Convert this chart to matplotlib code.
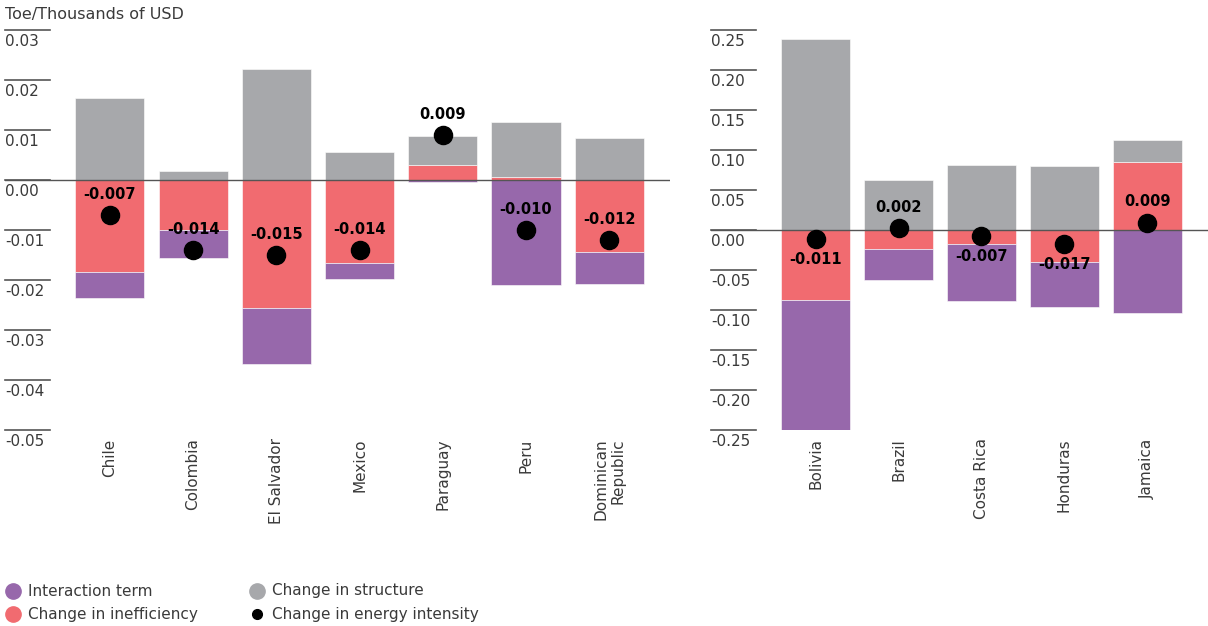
import numpy as np
import matplotlib.pyplot as plt
from matplotlib.lines import Line2D

# left panel (Toe / thousands of USD)
countries_l = ["Chile", "Colombia", "El Salvador", "Mexico", "Paraguay", "Peru",
               "Dominican\nRepublic"]
structure_l = [0.0164, 0.0018, 0.0222, 0.0056, 0.0058, 0.0109, 0.0084]
ineff_l = [-0.0184, -0.0100, -0.0256, -0.0166, 0.0030, 0.0007, -0.0143]
interaction_l = [-0.0052, -0.0056, -0.0112, -0.0032, -0.0003, -0.0210, -0.0065]
intensity_l = [-0.007, -0.014, -0.015, -0.014, 0.009, -0.010, -0.012]
yticks_l = [0.03, 0.02, 0.01, 0.00, -0.01, -0.02, -0.03, -0.04, -0.05]

# right panel
countries_r = ["Bolivia", "Brazil", "Costa Rica", "Honduras", "Jamaica"]
structure_r = [0.239, 0.063, 0.081, 0.080, 0.028]
ineff_r = [-0.087, -0.024, -0.018, -0.040, 0.085]
interaction_r = [-0.164, -0.038, -0.071, -0.056, -0.104]
intensity_r = [-0.011, 0.002, -0.007, -0.017, 0.009]
yticks_r = [0.25, 0.20, 0.15, 0.10, 0.05, 0.00, -0.05, -0.10, -0.15, -0.20, -0.25]

legend_labels = ["Interaction term", "Change in inefficiency",
                 "Change in structure", "Change in energy intensity"]

PURPLE = "#9768AB"
RED = "#F16B70"
GRAY = "#A7A8AB"
TXT = "#3a3a3a"
LINE = "#555555"

plt.rcParams["font.family"] = ["DejaVu Sans"]

W, H = 1208, 626
fig = plt.figure(figsize=(W / 100, H / 100), dpi=100)
ax_l = fig.add_axes([5 / W, 196 / H, 665 / W, 400 / H])
ax_r = fig.add_axes([711 / W, 196 / H, 497 / W, 400 / H])


def draw_panel(ax, names, structure, ineff, interaction, intensity, yticks,
               ylim, labels_above):
    x = np.arange(len(names))
    pos = np.zeros(len(names))
    neg = np.zeros(len(names))
    # stacking order: inefficiency nearest zero, then structure, then interaction
    for vals, col in [(ineff, RED), (structure, GRAY), (interaction, PURPLE)]:
        vals = np.array(vals)
        bottom = np.where(vals >= 0, pos, neg)
        ax.bar(x, vals, bottom=bottom, width=0.83, color=col,
               edgecolor="white", linewidth=0.4, zorder=2)
        pos = pos + np.where(vals >= 0, vals, 0)
        neg = neg + np.where(vals < 0, vals, 0)

    ax.scatter(x, intensity, s=170, color="black", zorder=4)
    for xi, v in zip(x, intensity):
        above = labels_above or v > 0
        ax.annotate(f"{v:.3f}", (xi, v), xytext=(0, 15 if above else -15),
                    textcoords="offset points", ha="center", va="center",
                    fontsize=10.5, fontweight="bold", color="black", zorder=5)

    x0 = -1.26
    ax.set_xlim(x0, len(names) - 1 + 0.73)
    ax.set_ylim(*ylim)
    ax.axhline(0, color=LINE, lw=1, zorder=3)
    for t in yticks:
        ax.plot([x0, x0 + 0.54], [t, t], color=LINE, lw=1.2, clip_on=False)
        ax.annotate(f"{t:.2f}", (x0, t), xytext=(0, -3), textcoords="offset points",
                    ha="left", va="top", fontsize=11, color=TXT,
                    annotation_clip=False)

    for xi, name in zip(x, names):
        ax.annotate(name, (xi, ylim[0]), xytext=(0, -6), textcoords="offset points",
                    rotation=90, ha="center", va="top", multialignment="right",
                    fontsize=11, color=TXT, annotation_clip=False)

    ax.set_xticks([])
    ax.set_yticks([])
    for s in ax.spines.values():
        s.set_visible(False)


draw_panel(ax_l, countries_l, structure_l, ineff_l, interaction_l, intensity_l,
           yticks_l, (-0.05, 0.03), True)
draw_panel(ax_r, countries_r, structure_r, ineff_r, interaction_r, intensity_r,
           yticks_r, (-0.25, 0.25), False)

fig.text(5 / W, 1 - 14 / H, "Toe/Thousands of USD", ha="left", va="center",
         fontsize=11.5, color=TXT)

# legend drawn by hand: two columns of two rows
leg_colors = [PURPLE, RED, GRAY, "black"]
leg_sizes = [11, 11, 11, 7]
for i, (lab, col, ms) in enumerate(zip(legend_labels, leg_colors, leg_sizes)):
    cx = [13, 257][i // 2]
    cy = 1 - [591, 614][i % 2] / H
    fig.add_artist(Line2D([cx / W], [cy], ls="", marker="o", ms=ms, color=col,
                          transform=fig.transFigure))
    fig.text((cx + 15) / W, cy, lab, ha="left", va="center", fontsize=11, color=TXT)

fig.savefig("out.png", dpi=100)
